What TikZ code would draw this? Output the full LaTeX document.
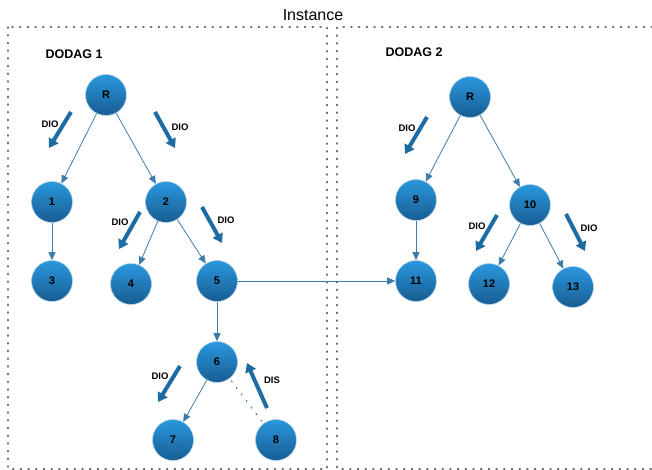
\documentclass[tikz,border=0pt]{standalone}
\usepackage{fontspec}
\setmainfont{Liberation Sans}
\usetikzlibrary{arrows.meta}
\definecolor{balltop}{RGB}{42,152,222}
\definecolor{ballbot}{RGB}{24,92,146}
\definecolor{ballrim}{RGB}{175,212,236}
\definecolor{edgecol}{RGB}{60,125,172}
\definecolor{diocol}{RGB}{28,108,164}
\definecolor{boxcol}{RGB}{110,110,110}
\tikzset{
  ball/.style={circle, minimum size=41pt, inner sep=0pt, top color=balltop, bottom color=ballbot, draw=ballrim, line width=0.6pt, font=\fontsize{11}{12}\selectfont\bfseries, text=black},
  link/.style={draw=edgecol, line width=0.8pt, -{Triangle[length=8pt,width=7pt]}, color=edgecol},
  dioarrow/.style={draw=diocol, line width=4pt, -{Triangle[length=9pt,width=11pt]}, color=diocol},
  diolabel/.style={font=\fontsize{9.5}{10}\selectfont\bfseries, inner sep=0pt, text=black},
  title/.style={font=\fontsize{12.5}{13}\selectfont\bfseries, inner sep=0pt},
  boxline/.style={draw=boxcol, line width=1.2pt, dash pattern=on 1.2pt off 6.5pt, line cap=round}
}
\begin{document}
\begin{tikzpicture}[x=1pt,y=-1pt]
\useasboundingbox (0,0) rectangle (652,470);
% boxes
\draw[boxline] (8,27) rectangle (327,469);
\draw[boxline] (660,27) -- (337,27) -- (337,469) -- (660,469);
% titles
\node[font=\fontsize{16}{17}\selectfont, inner sep=0pt] (inst) at (313,15) {Instance};
\node[title] (d1) at (74,54) {DODAG 1};
\node[title] (d2) at (414,52) {DODAG 2};
% nodes DODAG 1
\node[ball] (r1) at (106,95) {R};
\node[ball] (n1) at (52,202) {1};
\node[ball] (n2) at (166,202) {2};
\node[ball] (n3) at (52,281) {3};
\node[ball] (n4) at (131,284) {4};
\node[ball] (n5) at (217,281) {5};
\node[ball] (n6) at (217,362) {6};
\node[ball] (n7) at (173,440) {7};
\node[ball] (n8) at (276,440) {8};
% nodes DODAG 2
\node[ball] (r2) at (470,97) {R};
\node[ball] (n9) at (416,200) {9};
\node[ball] (n10) at (530,205) {10};
\node[ball] (n11) at (416,281) {11};
\node[ball] (n12) at (489,284) {12};
\node[ball] (n13) at (573,287) {13};
% links
\draw[link] (r1) -- (n1);
\draw[link] (r1) -- (n2);
\draw[link] (n1) -- (n3);
\draw[link] (n2) -- (n4);
\draw[link] (n2) -- (n5);
\draw[link] (n5) -- (n6);
\draw[link] (n6) -- (n7);
\draw[link] (n5) -- (n11);
\draw[link] (r2) -- (n9);
\draw[link] (r2) -- (n10);
\draw[link] (n9) -- (n11);
\draw[link] (n10) -- (n12);
\draw[link] (n10) -- (n13);
\draw[draw=edgecol, line width=1.2pt, dash pattern=on 1.2pt off 7pt, line cap=round, shorten >=2pt, shorten <=3pt] (n6) -- (n8);
% DIO / DIS arrows
\coordinate (a1s) at (71,112); \coordinate (a1e) at (49,148);
\coordinate (a2s) at (155,112); \coordinate (a2e) at (175,148);
\coordinate (a3s) at (140,212); \coordinate (a3e) at (119,249);
\coordinate (a4s) at (202,207); \coordinate (a4e) at (222,243);
\coordinate (a5s) at (180,366); \coordinate (a5e) at (158,402);
\coordinate (a6s) at (267,408); \coordinate (a6e) at (247,363);
\coordinate (a7s) at (427,117); \coordinate (a7e) at (405,154);
\coordinate (a8s) at (497,215); \coordinate (a8e) at (476,251);
\coordinate (a9s) at (566,214); \coordinate (a9e) at (585,251);
\draw[dioarrow] (a1s) -- (a1e);
\draw[dioarrow] (a2s) -- (a2e);
\draw[dioarrow] (a3s) -- (a3e);
\draw[dioarrow] (a4s) -- (a4e);
\draw[dioarrow] (a5s) -- (a5e);
\draw[dioarrow] (a6s) -- (a6e);
\draw[dioarrow] (a7s) -- (a7e);
\draw[dioarrow] (a8s) -- (a8e);
\draw[dioarrow] (a9s) -- (a9e);
\node[diolabel] (l1) at (50,124) {DIO};
\node[diolabel] (l2) at (180,127) {DIO};
\node[diolabel] (l3) at (120,222) {DIO};
\node[diolabel] (l4) at (226,220) {DIO};
\node[diolabel] (l5) at (160,376) {DIO};
\node[diolabel] (l6) at (272,380) {DIS};
\node[diolabel] (l7) at (407,128) {DIO};
\node[diolabel] (l8) at (477,226) {DIO};
\node[diolabel] (l9) at (589,228) {DIO};
\end{tikzpicture}
\end{document}
